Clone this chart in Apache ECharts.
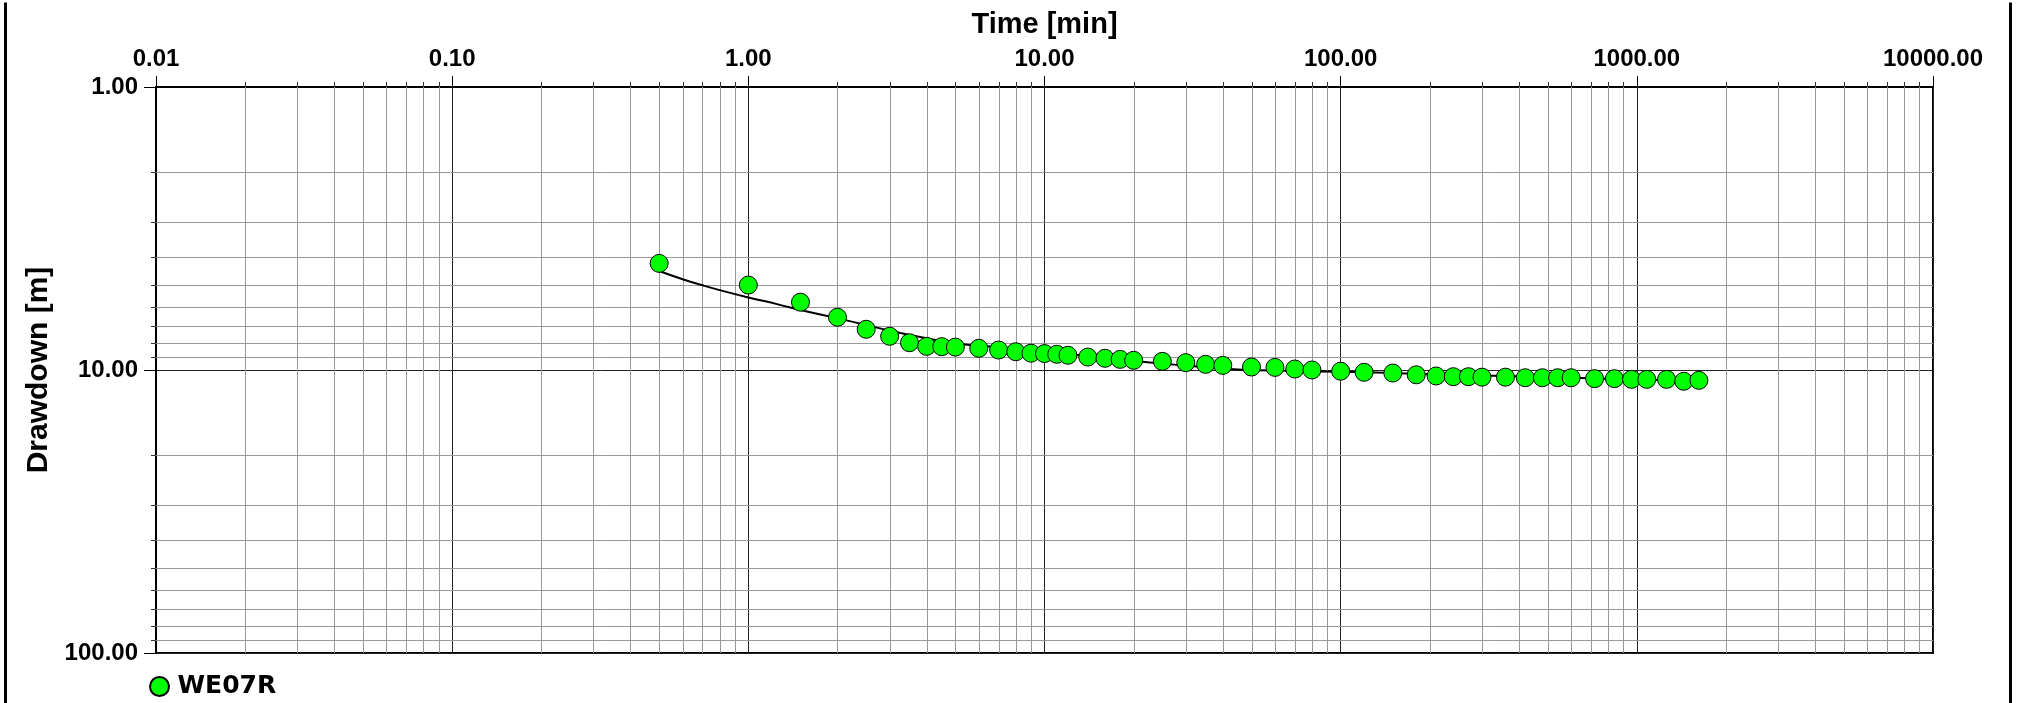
<!DOCTYPE html>
<html>
<head>
<meta charset="utf-8">
<script src="https://cdn.jsdelivr.net/npm/echarts@6/dist/echarts.min.js"></script>
<style>
html,body{margin:0;padding:0;background:#fff;}
#chart{width:2022px;height:703px;}
</style>
</head>
<body>
<div id="chart"></div>
<script>
// ---- data ----
const seriesName = 'WE07R';
const times = [0.5, 1, 1.5, 2, 2.5, 3, 3.5, 4, 4.5, 5, 6, 7, 8, 9, 10, 11, 12, 14, 16, 18, 20, 25, 30, 35, 40, 50, 60, 70, 80, 100, 120, 150, 180, 210, 240, 270, 300, 360, 420, 480, 540, 600, 720, 840, 960, 1080, 1260, 1440, 1620];
const drawdown = [4.20, 5.01, 5.76, 6.51, 7.18, 7.60, 8.01, 8.25, 8.27, 8.30, 8.38, 8.50, 8.62, 8.72, 8.75, 8.80, 8.87, 9.00, 9.09, 9.17, 9.24, 9.32, 9.42, 9.55, 9.63, 9.76, 9.79, 9.92, 10.0, 10.1, 10.19, 10.25, 10.4, 10.5, 10.56, 10.56, 10.6, 10.6, 10.65, 10.65, 10.65, 10.65, 10.73, 10.73, 10.79, 10.79, 10.79, 10.96, 10.88];
const fitTimes = [0.5, 0.6, 0.7, 0.8, 1, 1.25, 1.5, 2, 2.5, 3, 4, 5, 6, 8, 10, 15, 20, 30, 45, 70, 100, 150, 200, 300, 500, 700, 1000, 1620];
const fitDrawdown = [4.47, 4.78, 5.02, 5.22, 5.54, 5.85, 6.14, 6.57, 6.93, 7.26, 7.73, 8.05, 8.2, 8.42, 8.6, 9.0, 9.3, 9.65, 9.95, 10.08, 10.15, 10.25, 10.35, 10.45, 10.6, 10.7, 10.8, 10.9];
const xMin = 0.01, xMax = 10000, yMin = 1, yMax = 100;
const xDecades = [0.01, 0.1, 1, 10, 100, 1000];
const yDecades = [1, 10];
const minorMultipliers = [2, 3, 4, 5, 6, 7, 8, 9];

const xMinor = [];
xDecades.forEach(d => minorMultipliers.forEach(m => xMinor.push([+(m * d).toPrecision(3), yMin])));
const yMinor = [];
yDecades.forEach(d => minorMultipliers.forEach(m => yMinor.push([xMin, +(m * d).toPrecision(3)])));

const chart = echarts.init(document.getElementById('chart'), null, {renderer: 'canvas'});
const labelFont = {fontFamily: 'Liberation Sans', fontWeight: 'bold', fontSize: 24, color: '#000'};
const snap = v => Math.round(v) + 0.5;

chart.setOption({
  animation: false,
  backgroundColor: '#fff',
  grid: {left: 156, right: 89, top: 87, bottom: 50, show: true, borderColor: '#000', borderWidth: 2, backgroundColor: 'transparent'},
  legend: {
    data: [seriesName], left: 144, top: 669, icon: 'circle', itemWidth: 22, itemHeight: 19,
    textStyle: {fontFamily: 'DejaVu Sans', fontWeight: 'bold', fontSize: 25, color: '#000', padding: [0, 0, 0, 2]}
  },
  xAxis: {
    type: 'log', logBase: 10, min: xMin, max: xMax, position: 'top', splitNumber: 6,
    name: 'Time [min]', nameLocation: 'middle', nameGap: 48,
    nameTextStyle: {fontFamily: 'Liberation Sans', fontWeight: 'bold', fontSize: 29, color: '#000'},
    axisLine: {show: true, lineStyle: {color: '#000', width: 2}},
    axisTick: {show: true, length: 11, lineStyle: {color: '#000', width: 1}},
    axisLabel: Object.assign({margin: 16, formatter: v => Number(v).toFixed(2)}, labelFont),
    splitLine: {show: true, lineStyle: {color: '#222', width: 1}}
  },
  yAxis: {
    type: 'log', logBase: 10, min: yMin, max: yMax, inverse: true, splitNumber: 2,
    name: 'Drawdown [m]', nameLocation: 'middle', nameGap: 91, nameRotate: 90,
    nameTextStyle: {fontFamily: 'Liberation Sans', fontWeight: 'bold', fontSize: 30, color: '#000'},
    axisLine: {show: true, lineStyle: {color: '#000', width: 2}},
    axisTick: {show: true, length: 12, lineStyle: {color: '#000', width: 1}},
    axisLabel: Object.assign({margin: 18, formatter: v => Number(v).toFixed(2)}, labelFont),
    splitLine: {show: true, lineStyle: {color: '#222', width: 1}}
  },
  graphic: [
    {type: 'line', left: 3, top: 0, shape: {x1: 0, y1: 0, x2: 0, y2: 703}, style: {stroke: '#000', lineWidth: 3}},
    {type: 'line', left: 2008, top: 0, shape: {x1: 0, y1: 0, x2: 0, y2: 703}, style: {stroke: '#000', lineWidth: 3}}
  ],
  series: [
    {
      type: 'custom', name: 'xminor', z: 1, silent: true, clip: false,
      encode: {x: 0, y: 1}, data: xMinor,
      renderItem: (params, api) => {
        const v = api.value(0);
        const top = api.coord([v, yMin]);
        const bot = api.coord([v, yMax]);
        const x = snap(top[0]);
        return {type: 'group', children: [
          {type: 'line', shape: {x1: x, y1: top[1], x2: x, y2: bot[1]}, style: {stroke: '#999', lineWidth: 1}},
          {type: 'line', shape: {x1: x, y1: top[1] - 5, x2: x, y2: top[1]}, style: {stroke: '#333', lineWidth: 1}}
        ]};
      }
    },
    {
      type: 'custom', name: 'yminor', z: 1, silent: true, clip: false,
      encode: {x: 0, y: 1}, data: yMinor,
      renderItem: (params, api) => {
        const v = api.value(1);
        const l = api.coord([xMin, v]);
        const r = api.coord([xMax, v]);
        const y = snap(l[1]);
        return {type: 'group', children: [
          {type: 'line', shape: {x1: l[0], y1: y, x2: r[0], y2: y}, style: {stroke: '#999', lineWidth: 1}},
          {type: 'line', shape: {x1: l[0] - 5, y1: y, x2: l[0], y2: y}, style: {stroke: '#333', lineWidth: 1}}
        ]};
      }
    },
    {
      type: 'line', name: 'fit', z: 3, silent: true, showSymbol: false, symbol: 'none', smooth: true,
      lineStyle: {color: '#000', width: 2},
      data: fitTimes.map((t, i) => [t, fitDrawdown[i]])
    },
    {
      type: 'scatter', name: seriesName, z: 4, symbol: 'circle', symbolSize: 18,
      itemStyle: {color: '#00ff00', borderColor: '#000', borderWidth: 1, opacity: 1},
      data: times.map((t, i) => [t, drawdown[i]])
    }
  ]
});
</script>
</body>
</html>
